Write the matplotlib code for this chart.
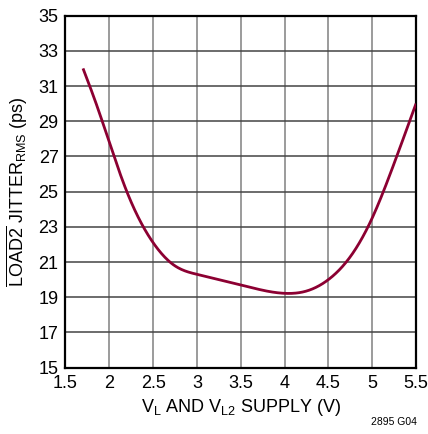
import matplotlib
matplotlib.use("Agg")
import matplotlib.pyplot as plt
import numpy as np

# Supply voltage (V) and measured RMS jitter (ps)
supply_v = [1.70, 1.85, 2.00, 2.20, 2.50, 2.75, 3.00, 3.50, 4.00, 4.25,
            4.50, 4.75, 5.00, 5.25, 5.50]
jitter_ps = [32.0, 30.0, 27.8, 25.0, 22.1, 20.78, 20.3, 19.7, 19.22, 19.35,
             20.0, 21.3, 23.5, 26.6, 30.0]

x_ticks = [1.5, 2, 2.5, 3, 3.5, 4, 4.5, 5, 5.5]
x_tick_labels = ["1.5", "2", "2.5", "3", "3.5", "4", "4.5", "5", "5.5"]
y_ticks = [15, 17, 19, 21, 23, 25, 27, 29, 31, 33, 35]

font_main = ["Liberation Sans Narrow", "Liberation Sans", "DejaVu Sans"]
plt.rcParams["font.family"] = font_main
plt.rcParams["mathtext.fontset"] = "custom"
plt.rcParams["mathtext.rm"] = "Liberation Sans"
plt.rcParams["mathtext.it"] = "Liberation Sans"

fig = plt.figure(figsize=(4.28, 4.34), dpi=100)
ax = fig.add_axes([0.153, 0.153, 0.819, 0.811])


def natural_spline(x, y, n=400):
    """Natural cubic spline through (x, y), sampled at n points."""
    x = np.asarray(x, float)
    y = np.asarray(y, float)
    k = len(x)
    h = np.diff(x)
    A = np.zeros((k, k))
    b = np.zeros(k)
    A[0, 0] = A[-1, -1] = 1.0
    for i in range(1, k - 1):
        A[i, i - 1] = h[i - 1]
        A[i, i] = 2 * (h[i - 1] + h[i])
        A[i, i + 1] = h[i]
        b[i] = 6 * ((y[i + 1] - y[i]) / h[i] - (y[i] - y[i - 1]) / h[i - 1])
    M = np.linalg.solve(A, b)
    xf = np.linspace(x[0], x[-1], n)
    idx = np.clip(np.searchsorted(x, xf) - 1, 0, k - 2)
    x0, x1 = x[idx], x[idx + 1]
    hh = x1 - x0
    a = (x1 - xf) / hh
    c = (xf - x0) / hh
    yf = (a * y[idx] + c * y[idx + 1]
          + ((a**3 - a) * M[idx] + (c**3 - c) * M[idx + 1]) * hh**2 / 6)
    return xf, yf


xf, yf = natural_spline(supply_v, jitter_ps)
ax.plot(xf, yf, color="#8c0032", lw=2.0, solid_capstyle="butt", zorder=3)

ax.set_xlim(1.5, 5.5)
ax.set_ylim(15, 35)
ax.set_xticks(x_ticks)
ax.set_xticklabels(x_tick_labels)
ax.set_yticks(y_ticks)

for x in x_ticks[1:-1]:
    ax.axvline(x, color="#8a8a8a", lw=1.2, zorder=1)
for y in y_ticks[1:-1]:
    ax.axhline(y, color="#444444", lw=1.1, zorder=1)

for s in ax.spines.values():
    s.set_linewidth(1.6)
    s.set_color("black")

ax.tick_params(axis="both", length=0, labelsize=13, pad=5)

ax.set_xlabel(r"V$_{\mathrm{L}}$ AND V$_{\mathrm{L2}}$ SUPPLY (V)", fontsize=13, labelpad=4)
ax.set_ylabel(r"$\overline{\mathrm{LOAD2}}$ JITTER$_{\mathrm{RMS}}$ (ps)", fontsize=13, labelpad=6)

fig.text(0.975, 0.015, "2895 G04", ha="right", va="bottom", fontsize=7.5)

fig.savefig("out.png", dpi=100)
